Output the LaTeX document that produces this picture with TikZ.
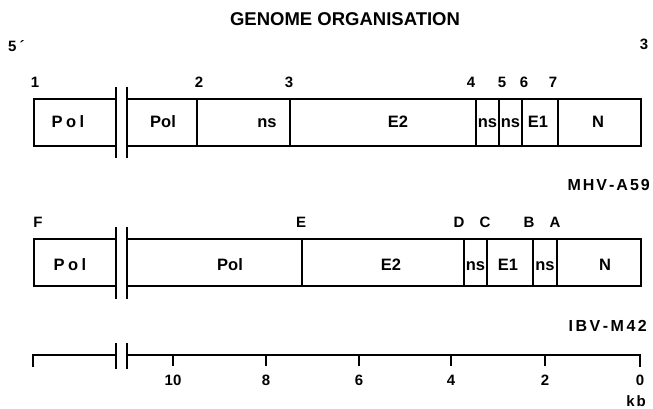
\documentclass[tikz,border=0pt]{standalone}
\usepackage{fontspec}
\setmainfont{Liberation Sans}
\begin{document}
\begin{tikzpicture}[x=1pt,y=-1pt,
  outline/.style={line width=1.8pt},
  brk/.style={line width=2.4pt},
  seglabel/.style={font=\fontsize{16.5}{16.5}\selectfont\bfseries, anchor=base, inner sep=0pt},
  sitelabel/.style={font=\fontsize{15}{15}\selectfont\bfseries, anchor=base, inner sep=0pt},
  virus/.style={font=\fontsize{16}{16}\selectfont\bfseries, anchor=base east, inner sep=0pt},
  ticklabel/.style={font=\fontsize{15}{15}\selectfont\bfseries, anchor=base, inner sep=0pt}]
\useasboundingbox (0,0) rectangle (653,409);

% title and genome ends
\node[font=\fontsize{18.5}{18.5}\selectfont\bfseries, anchor=base, inner sep=0pt] (title) at (345,26) {GENOME ORGANISATION};
\node[sitelabel, anchor=base west] (five) at (8,52) {5\kern3pt\char"00B4};
\node[sitelabel] (three) at (644,50) {3};

% ---------- MHV-A59 ----------
\draw[outline] (116,99) -- (34,99) -- (34,146) -- (116,146);
\draw[outline] (127,99) rectangle (641,146);
\foreach \x in {197,290,476,499,522,558} \draw[outline] (\x,99) -- (\x,146);
\draw[brk] (116,87) -- (116,158);
\draw[brk] (127,87) -- (127,158);

\foreach \x/\t [count=\i] in {35/1,199/2,289/3,471/4,502/5,524/6,553/7}
  \node[sitelabel] (m\i) at (\x,88) {\t};

\node[seglabel] (mpol1) at (68,128) {P\kern3.5pt o\kern3.5pt l};
\node[seglabel] (mpol2) at (163,128) {Pol};
\node[seglabel] (mns1) at (267,128) {ns};
\node[seglabel] (me2) at (398,128) {E2};
\node[seglabel] (mns2) at (487.5,128) {ns};
\node[seglabel] (mns3) at (510.5,128) {ns};
\node[seglabel] (me1) at (538,128) {E1};
\node[seglabel] (mn) at (598,128) {N};

\node[virus] (mhv) at (650,190) {M\kern2pt H\kern2pt V\kern2pt -\kern2pt A\kern2pt 5\kern2pt 9};

% ---------- IBV-M42 ----------
\draw[outline] (116,239) -- (34,239) -- (34,286) -- (116,286);
\draw[outline] (127,239) rectangle (641,286);
\foreach \x in {302,464,487,533,557} \draw[outline] (\x,239) -- (\x,286);
\draw[brk] (116,227) -- (116,299);
\draw[brk] (127,227) -- (127,299);

\foreach \x/\t [count=\i] in {38/F,301/E,459/D,485/C,529/B,555/A}
  \node[sitelabel] (b\i) at (\x,227) {\t};

\node[seglabel] (bpol1) at (70,270) {P\kern3.5pt o\kern3.5pt l};
\node[seglabel] (bpol2) at (230,270) {Pol};
\node[seglabel] (be2) at (391,270) {E2};
\node[seglabel] (bns1) at (475.5,270) {ns};
\node[seglabel] (be1) at (508,270) {E1};
\node[seglabel] (bns2) at (545,270) {ns};
\node[seglabel] (bn) at (605,270) {N};

\node[virus] (ibv) at (647,331) {I\kern2.5pt B\kern2.5pt V\kern2.5pt -\kern2.5pt M\kern2.5pt 4\kern2.5pt 2};

% ---------- kb scale ----------
\draw[outline] (33,367) -- (33,355) -- (116,355);
\draw[outline] (127,355) -- (640,355) -- (640,367);
\draw[brk] (116,343) -- (116,369);
\draw[brk] (127,343) -- (127,369);
\foreach \x/\t in {173/10,266/8,359/6,451/4,545/2,640/0} {
  \draw[outline] (\x,355) -- (\x,366);
  \node[ticklabel] (t\t) at (\x,385) {\t};
}
\node[ticklabel] (kb) at (636,406) {k\kern2pt b};
\end{tikzpicture}
\end{document}
